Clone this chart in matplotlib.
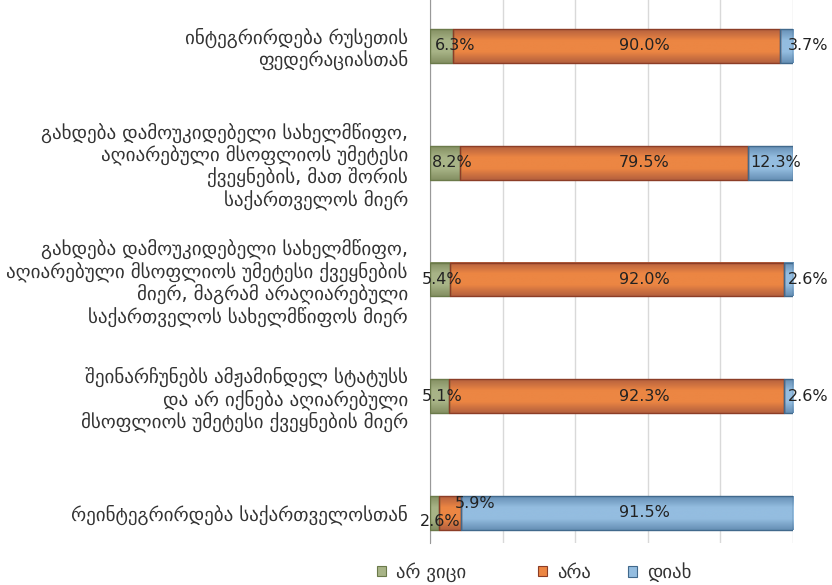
import numpy as np
import matplotlib
matplotlib.use("Agg")
import matplotlib.pyplot as plt
from matplotlib.colors import LinearSegmentedColormap
from matplotlib.patches import Patch

plt.rcParams['font.family'] = ['DejaVu Sans']

# categories, top to bottom
categories = [
    "ინტეგრირდება რუსეთის\nფედერაციასთან",
    "გახდება დამოუკიდებელი სახელმწიფო,\nაღიარებული მსოფლიოს უმეტესი\nქვეყნების, მათ შორის\nსაქართველოს მიერ",
    "გახდება დამოუკიდებელი სახელმწიფო,\nაღიარებული მსოფლიოს უმეტესი ქვეყნების\nმიერ, მაგრამ არაღიარებული\nსაქართველოს სახელმწიფოს მიერ",
    "შეინარჩუნებს ამჟამინდელ სტატუსს\nდა არ იქნება აღიარებული\nმსოფლიოს უმეტესი ქვეყნების მიერ",
    "რეინტეგრირდება საქართველოსთან",
]
series_names = ["არ ვიცი", "არა", "დიახ"]
dont_know = [6.3, 8.2, 5.4, 5.1, 2.6]
no = [90.0, 79.5, 92.0, 92.3, 5.9]
yes = [3.7, 12.3, 2.6, 2.6, 91.5]

# style: (edge, centre) colours of the gradient per series
grad_colors = [("#848f62", "#a8b487"), ("#b4603e", "#ec8643"), ("#6690b5", "#94bde0")]
outline = ["#6b7a4a", "#8c3d26", "#41698c"]
# label offsets in pixels (dx, dy) for the small segments
small_off = {
    (0, 0): (14, 0), (0, 1): (7, 0), (0, 2): (2, 0), (0, 3): (3, 0), (0, 4): (5, -9),
    (1, 4): (25, 9),
    (2, 0): (22, 0), (2, 1): (5, 0), (2, 2): (20, 0), (2, 3): (20, 0),
}
BIG_LABEL_X = 59

fig = plt.figure(figsize=(8.32, 5.85), dpi=100)
ax = fig.add_axes([430 / 832, 1 - 543 / 585, 363 / 832, 543 / 585])

n = len(categories)
ypos = np.arange(n)[::-1]
bar_h = 0.29
data = [dont_know, no, yes]
left = np.zeros(n)
for s, vals in enumerate(data):
    vals = np.array(vals)
    bars = ax.barh(ypos, vals, left=left, height=bar_h, color=grad_colors[s][1])
    cmap = LinearSegmentedColormap.from_list("g%d" % s, [grad_colors[s][0], grad_colors[s][1],
                                                        grad_colors[s][1], grad_colors[s][0]])
    grad = np.linspace(0, 1, 64).reshape(-1, 1)
    for i, b in enumerate(bars):
        x0, y0 = b.get_x(), b.get_y()
        ax.imshow(grad, extent=[x0, x0 + b.get_width(), y0, y0 + b.get_height()],
                  cmap=cmap, aspect='auto', zorder=3, interpolation='bicubic')
        b.set_facecolor('none')
        b.set_edgecolor(outline[s])
        b.set_linewidth(1.0)
        b.set_zorder(4)
        v = vals[i]
        if v > 50:
            xc, off = BIG_LABEL_X, (0, 0)
        else:
            xc, off = left[i] + v / 2, small_off.get((s, i), (0, 0))
        ax.annotate("%.1f%%" % v, xy=(xc, ypos[i]), xytext=off, textcoords='offset pixels',
                    ha='center', va='center', fontsize=11.5, color='#222222', zorder=5)
    left = left + vals

ax.set_xlim(0, 100)
ax.set_ylim(-0.257, 4.394)
ax.set_xticks(np.arange(0, 101, 20))
ax.set_xticklabels([])
ax.tick_params(length=0)
ax.grid(axis='x', color='#d9d9d9', linewidth=1)
ax.set_axisbelow(True)
ax.set_yticks(ypos)
ax.set_yticklabels(categories, fontsize=13.7, color='#333333', linespacing=1.12)
ax.tick_params(axis='y', pad=16)
for sp in ['top', 'right', 'bottom']:
    ax.spines[sp].set_visible(False)
ax.spines['left'].set_color('#999999')

# legend entries placed one by one (uneven spacing as in the original)
legend_x = [377, 538, 628]
for i in range(3):
    h = Patch(facecolor=grad_colors[i][1], edgecolor=outline[i], linewidth=0.8)
    fig.legend([h], [series_names[i]], loc='center left',
               bbox_to_anchor=(legend_x[i] / 832, 1 - 572 / 585),
               frameon=False, fontsize=13.5, handlelength=0.5, handleheight=0.5,
               handletextpad=0.5, borderpad=0, borderaxespad=0, labelcolor='#333333')

fig.savefig("out.png", dpi=100)
